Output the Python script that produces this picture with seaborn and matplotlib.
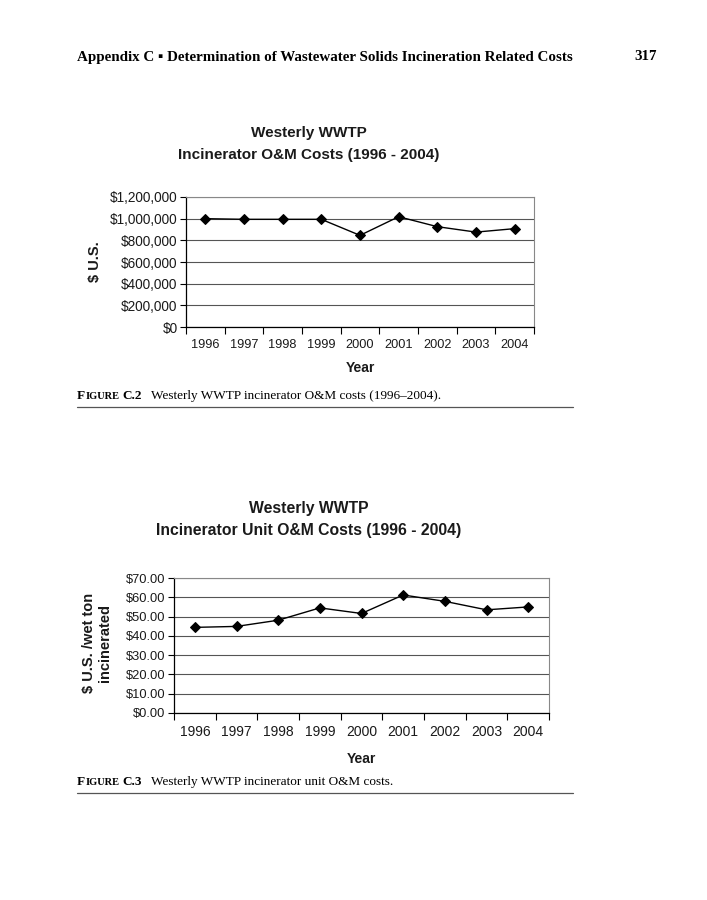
import numpy as np
import matplotlib
matplotlib.use("Agg")
import matplotlib.pyplot as plt
import matplotlib.ticker as ticker
import seaborn as sns

# data read from the page
years = ["1996", "1997", "1998", "1999", "2000", "2001", "2002", "2003", "2004"]
om_costs = [1000000, 994000, 994000, 994000, 846000, 1018000, 926000, 876000, 908000]
unit_costs = [44.4, 44.9, 48.1, 54.5, 51.6, 61.2, 57.9, 53.5, 55.0]

om_ticks = [0, 200000, 400000, 600000, 800000, 1000000, 1200000]
unit_ticks = [0, 10, 20, 30, 40, 50, 60, 70]

W, H = 707, 900
sns.set_theme(style="white")
plt.rcParams['font.family'] = ['Liberation Sans', 'DejaVu Sans']
TXT = '#1a1a1a'
SERIF = ['Liberation Serif', 'DejaVu Serif']

fig = plt.figure(figsize=(W / 100, H / 100), dpi=100)
fig.patch.set_facecolor('white')


def px_axes(left, top, right, bottom):
    return fig.add_axes([left / W, 1 - bottom / H, (right - left) / W, (bottom - top) / H])


def draw_chart(ax, values, yticks, fmt, ymax, xsize, ysize):
    x = np.arange(len(years))
    sns.lineplot(x=x, y=values, ax=ax, color='black', linewidth=1.0,
                 marker='D', markersize=5, markeredgecolor='black')
    ax.set_xlim(-0.5, len(years) - 0.5)
    ax.set_ylim(0, ymax)
    ax.set_yticks(yticks)
    ax.yaxis.set_major_formatter(ticker.FuncFormatter(fmt))
    # tick marks sit between categories, labels in the middle
    ax.set_xticks(np.arange(-0.5, len(years), 1.0))
    ax.set_xticklabels([])
    ax.set_xticks(x, minor=True)
    ax.set_xticklabels(years, minor=True)
    ax.tick_params(axis='x', which='major', length=5, width=0.8, color='black', direction='out', bottom=True)
    ax.tick_params(axis='x', which='minor', length=0, labelsize=xsize, labelcolor=TXT, pad=9)
    ax.tick_params(axis='y', length=4, width=0.8, color='black', direction='out', left=True,
                   labelsize=ysize, labelcolor=TXT, pad=2)
    ax.grid(axis='y', color='#555555', linewidth=0.8)
    ax.set_axisbelow(True)
    for s in ['left', 'bottom']:
        ax.spines[s].set_color('black')
        ax.spines[s].set_linewidth(0.9)
    for s in ['top', 'right']:
        ax.spines[s].set_color('#888888')
        ax.spines[s].set_linewidth(0.8)
    ax.set_xlabel('')
    ax.set_ylabel('')


def fy(y):
    return 1 - y / H


def fx(x):
    return x / W


# chart 1
ax1 = px_axes(186, 197, 534, 327)
draw_chart(ax1, om_costs, om_ticks, lambda v, p: f"${v:,.0f}", 1200000, 9.2, 9.8)
fig.text(fx(309), fy(133), "Westerly WWTP", ha='center', va='center',
         fontsize=11, fontweight='bold', color=TXT)
fig.text(fx(309), fy(155), "Incinerator O&M Costs (1996 - 2004)", ha='center', va='center',
         fontsize=11, fontweight='bold', color=TXT)
fig.text(fx(360), fy(368), "Year", ha='center', va='center', fontsize=10, fontweight='bold', color=TXT)
fig.text(fx(95), fy(262), "$ U.S.", ha='center', va='center', rotation=90,
         fontsize=10.5, fontweight='bold', color=TXT)

# chart 2
ax2 = px_axes(174, 578, 549, 713)
draw_chart(ax2, unit_costs, unit_ticks, lambda v, p: f"${v:.2f}", 70, 10, 9.3)
fig.text(fx(309), fy(508), "Westerly WWTP", ha='center', va='center',
         fontsize=11.3, fontweight='bold', color=TXT)
fig.text(fx(309), fy(531), "Incinerator Unit O&M Costs (1996 - 2004)", ha='center', va='center',
         fontsize=11.3, fontweight='bold', color=TXT)
fig.text(fx(361), fy(759), "Year", ha='center', va='center', fontsize=10, fontweight='bold', color=TXT)
fig.text(fx(97), fy(643), "$ U.S. /wet ton\nincinerated", ha='center', va='center', rotation=90,
         fontsize=10.5, fontweight='bold', color=TXT, linespacing=1.1)

# page header
fig.text(fx(77), fy(57), "Appendix C \u25aa Determination of Wastewater Solids Incineration Related Costs",
         ha='left', va='center', fontsize=10.8, fontweight='bold', family=SERIF, color='black')
fig.text(fx(657), fy(57), "317", ha='right', va='center', fontsize=10.8, fontweight='bold',
         family=SERIF, color='black')

renderer = fig.canvas.get_renderer()


def caption(y, num, body):
    x = 77
    parts = [("F", 9.5, 'bold', 0), ("IGURE", 7.5, 'bold', 3), (num, 9.5, 'bold', 9), (body, 9.5, 'normal', 0)]
    for txt, size, weight, gap in parts:
        t = fig.text(fx(x), fy(y), txt, ha='left', va='baseline', fontsize=size,
                     fontweight=weight, family=SERIF, color='black')
        bb = t.get_window_extent(renderer)
        x += bb.width + gap
    fig.add_artist(plt.Line2D([fx(77), fx(573)], [fy(y + 8), fy(y + 8)],
                              color='#555555', linewidth=0.9))


caption(399, "C.2", "Westerly WWTP incinerator O&M costs (1996\u20132004).")
caption(785, "C.3", "Westerly WWTP incinerator unit O&M costs.")

fig.savefig("out.png", dpi=100, facecolor='white')
